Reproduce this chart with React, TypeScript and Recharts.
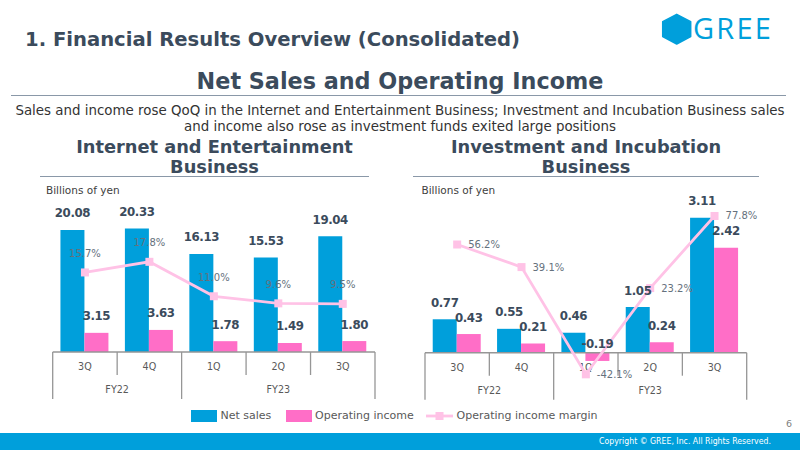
import React from 'react';
import { ComposedChart, Bar, Line, XAxis, YAxis, ReferenceLine, LabelList } from 'recharts';

// Quarter categories and the fiscal-year groups they belong to
const quarters = ['3Q', '4Q', '1Q', '2Q', '3Q'];
const fiscalYears = ['FY22', 'FY23'];
const fiscalYearSpans = [2, 3];

// Internet and Entertainment Business (billions of yen, margin in %)
const ieNetSales = [20.08, 20.33, 16.13, 15.53, 19.04];
const ieOperatingIncome = [3.15, 3.63, 1.78, 1.49, 1.8];
const ieMargin = [15.7, 17.8, 11.0, 9.6, 9.5];

// Investment and Incubation Business (billions of yen, margin in %)
const iiNetSales = [0.77, 0.55, 0.46, 1.05, 3.11];
const iiOperatingIncome = [0.43, 0.21, -0.19, 0.24, 2.42];
const iiMargin = [56.2, 39.1, -42.1, 23.2, 77.8];

const BLUE = '#009FDB';
const PINK = '#FF6EC7';
const LIGHT_PINK = '#FFC2E6';
const SLATE = '#3B4B5C';
const GRAY_TEXT = '#595959';
const TABLE_LINE = '#969696';
const FONT = '"DejaVu Sans", Verdana, sans-serif';

type TableProps = { x1?: number; x2?: number; y1?: number };

// Two-row category table (quarters over fiscal years) hung from the zero line
function CategoryTable({ x1 = 0, x2 = 0, y1 = 0 }: TableProps) {
  const n = quarters.length;
  const band = (x2 - x1) / n;
  const rowH = 23;
  const fullH = 47;
  const items: React.ReactNode[] = [];
  items.push(<line key="axis" x1={x1} x2={x2} y1={y1} y2={y1} stroke={TABLE_LINE} strokeWidth={1.5} />);
  const groupEdges = new Set<number>([0]);
  let acc = 0;
  fiscalYearSpans.forEach((s) => {
    acc += s;
    groupEdges.add(acc);
  });
  for (let i = 0; i <= n; i++) {
    const x = x1 + i * band;
    const h = groupEdges.has(i) ? fullH : rowH;
    items.push(<line key={`v${i}`} x1={x} x2={x} y1={y1} y2={y1 + h} stroke={TABLE_LINE} strokeWidth={1.3} />);
  }
  quarters.forEach((q, i) => {
    items.push(
      <text key={`q${i}`} x={x1 + (i + 0.5) * band} y={y1 + 14.5} textAnchor="middle" dominantBaseline="central"
        fontFamily={FONT} fontSize={9.6} fill={GRAY_TEXT}>{q}</text>
    );
  });
  let start = 0;
  fiscalYears.forEach((fy, j) => {
    const span = fiscalYearSpans[j];
    items.push(
      <text key={`fy${j}`} x={x1 + (start + span / 2) * band} y={y1 + 37.7} textAnchor="middle" dominantBaseline="central"
        fontFamily={FONT} fontSize={9.6} fill={GRAY_TEXT}>{fy}</text>
    );
    start += span;
  });
  return <g className="category-table">{items}</g>;
}

function readBox(props: any) {
  const vb = props.viewBox || {};
  const x = vb.x ?? props.x ?? 0;
  const y = vb.y ?? props.y ?? 0;
  const width = vb.width ?? props.width ?? 0;
  const height = vb.height ?? props.height ?? 0;
  return { x: Number(x), y: Number(y), width: Number(width), height: Number(height) };
}

const renderAmountLabel = (props: any) => {
  const { x, y, width, height } = readBox(props);
  const value = Number(props.value);
  const top = Math.min(y, y + height);
  const cy = value < 0 ? top - 9 : top - 16.5;
  return (
    <text x={x + width / 2} y={cy} textAnchor="middle" dominantBaseline="central" fontFamily={FONT}
      fontWeight="bold" fontSize={11.8} letterSpacing={-0.4} fill={SLATE}>
      {value.toFixed(2)}
    </text>
  );
};

const renderMarginLabelAbove = (props: any) => {
  const { x, y } = readBox(props);
  return (
    <text x={x} y={y - 19} textAnchor="middle" dominantBaseline="central" fontFamily={FONT} fontSize={10}
      fill="#65717D">
      {Number(props.value).toFixed(1)}%
    </text>
  );
};

const renderMarginLabelRight = (props: any) => {
  const { x, y } = readBox(props);
  return (
    <text x={x + 11} y={y} textAnchor="start" dominantBaseline="central" fontFamily={FONT} fontSize={10}
      fill="#65717D">
      {Number(props.value).toFixed(1)}%
    </text>
  );
};

const squareDot = (p: any) => {
  const { cx, cy, index } = p;
  return <rect key={`dot-${index}`} x={cx - 4} y={cy - 4} width={8} height={8} fill={LIGHT_PINK} />;
};

type SegmentProps = {
  netSales: number[];
  opIncome: number[];
  margin: number[];
  amountDomain: [number, number];
  ratioDomain: [number, number];
  ratioLabelSide: 'above' | 'right';
  width: number;
  height: number;
  chartMargin: { top: number; right: number; bottom: number; left: number };
};

function SegmentChart(props: SegmentProps) {
  const { netSales, opIncome, margin, amountDomain, ratioDomain, ratioLabelSide, width, height, chartMargin } = props;
  const data = quarters.map((q, i) => ({
    quarter: q,
    netSales: netSales[i],
    opIncome: opIncome[i],
    margin: margin[i],
  }));
  return (
    <ComposedChart width={width} height={height} data={data} margin={chartMargin} barCategoryGap="12%" barGap={0}>
      <XAxis dataKey="quarter" hide />
      <YAxis yAxisId="amount" hide domain={amountDomain} />
      <YAxis yAxisId="ratio" hide orientation="right" domain={ratioDomain} />
      <ReferenceLine yAxisId="amount" y={0} shape={(p: any) => <CategoryTable x1={p.x1} x2={p.x2} y1={p.y1} />} />
      <Bar yAxisId="amount" dataKey="netSales" name="Net sales" fill={BLUE} isAnimationActive={false}>
        <LabelList dataKey="netSales" content={renderAmountLabel} />
      </Bar>
      <Bar yAxisId="amount" dataKey="opIncome" name="Operating income" fill={PINK} isAnimationActive={false}>
        <LabelList dataKey="opIncome" content={renderAmountLabel} />
      </Bar>
      <Line yAxisId="ratio" dataKey="margin" name="Operating income margin" type="linear" stroke={LIGHT_PINK}
        strokeWidth={2.8} dot={squareDot} activeDot={false} isAnimationActive={false}>
        <LabelList dataKey="margin" content={ratioLabelSide === 'above' ? renderMarginLabelAbove : renderMarginLabelRight} />
      </Line>
    </ComposedChart>
  );
}

const abs = (s: React.CSSProperties): React.CSSProperties => ({ position: 'absolute', ...s });

function LegendRow() {
  const textStyle: React.CSSProperties = { fontFamily: FONT, fontSize: 11, color: GRAY_TEXT, lineHeight: '14px', whiteSpace: 'nowrap' };
  return (
    <>
      <div style={abs({ left: 191, top: 410, width: 26, height: 12, background: BLUE })} />
      <div style={abs({ left: 220.5, top: 409, ...textStyle })}>Net sales</div>
      <div style={abs({ left: 286, top: 410, width: 26, height: 12, background: PINK })} />
      <div style={abs({ left: 315, top: 409, ...textStyle })}>Operating income</div>
      <svg style={abs({ left: 426, top: 410, overflow: 'visible' })} width={27} height={12}>
        <line x1={0} x2={27} y1={6} y2={6} stroke={LIGHT_PINK} strokeWidth={2.8} />
        <rect x={9.5} y={2} width={8} height={8} fill={LIGHT_PINK} />
      </svg>
      <div style={abs({ left: 456.5, top: 409, ...textStyle })}>Operating income margin</div>
    </>
  );
}

export default function App() {
  return (
    <div style={{ position: 'fixed', left: 0, top: 0, width: 800, height: 450, overflow: 'hidden', background: '#ffffff' }}>
      {/* Slide header */}
      <div style={abs({ left: 25, top: 28.5, fontFamily: FONT, fontWeight: 'bold', fontSize: 19.6, lineHeight: '22px', color: SLATE, whiteSpace: 'nowrap' })}>
        1. Financial Results Overview (Consolidated)
      </div>
      <svg style={abs({ left: 655, top: 8 })} width={140} height={44}>
        <polygon points="21.7,6.3 35.7,13.7 35.7,28.6 21.7,36 7.7,28.6 7.7,13.7" fill={BLUE} stroke={BLUE} strokeWidth={1.5} strokeLinejoin="round" />
        <text x={38} y={31} fontFamily='"Open Sans", sans-serif' fontSize={29} letterSpacing={2.2} fill={BLUE}>GREE</text>
      </svg>
      <div style={abs({ left: 0, width: 800, top: 67.8, textAlign: 'center', fontFamily: FONT, fontWeight: 'bold', fontSize: 22.3, lineHeight: '26px', color: SLATE, whiteSpace: 'nowrap' })}>
        Net Sales and Operating Income
      </div>
      <div style={abs({ left: 11, top: 95.2, width: 775, height: 0, borderTop: '1.6px solid #8A98A8' })} />
      <div style={abs({ left: 0, width: 800, top: 102.7, textAlign: 'center', fontFamily: FONT, fontSize: 13.4, lineHeight: '16px', color: '#333333', whiteSpace: 'nowrap' })}>
        Sales and income rose QoQ in the Internet and Entertainment Business; Investment and Incubation Business sales
        <br />
        and income also rose as investment funds exited large positions
      </div>

      {/* Segment headings */}
      <div style={abs({ left: 14.5, width: 400, top: 137, textAlign: 'center', fontFamily: FONT, fontWeight: 'bold', fontSize: 17.8, lineHeight: '20px', color: SLATE, whiteSpace: 'nowrap' })}>
        Internet and Entertainment
        <br />
        Business
      </div>
      <div style={abs({ left: 40, top: 176.2, width: 329, height: 0, borderTop: '1.6px solid #8A98A8' })} />
      <div style={abs({ left: 386, width: 400, top: 137, textAlign: 'center', fontFamily: FONT, fontWeight: 'bold', fontSize: 17.8, lineHeight: '20px', color: SLATE, whiteSpace: 'nowrap' })}>
        Investment and Incubation
        <br />
        Business
      </div>
      <div style={abs({ left: 413, top: 176.2, width: 346, height: 0, borderTop: '1.6px solid #8A98A8' })} />

      <div style={abs({ left: 46, top: 183, fontFamily: FONT, fontSize: 10.5, lineHeight: '14px', color: '#404040', whiteSpace: 'nowrap' })}>Billions of yen</div>
      <div style={abs({ left: 421.5, top: 183, fontFamily: FONT, fontSize: 10.5, lineHeight: '14px', color: '#404040', whiteSpace: 'nowrap' })}>Billions of yen</div>

      {/* Charts */}
      <div style={abs({ left: 40, top: 180 })}>
        <SegmentChart
          netSales={ieNetSales}
          opIncome={ieOperatingIncome}
          margin={ieMargin}
          amountDomain={[0, 25]}
          ratioDomain={[0, 30]}
          ratioLabelSide="above"
          width={345}
          height={225}
          chartMargin={{ top: 20, right: 10, bottom: 53, left: 12.7 }}
        />
      </div>
      <div style={abs({ left: 410, top: 180 })}>
        <SegmentChart
          netSales={iiNetSales}
          opIncome={iiOperatingIncome}
          margin={iiMargin}
          amountDomain={[-0.629, 3.518]}
          ratioDomain={[-46.4, 89.9]}
          ratioLabelSide="right"
          width={360}
          height={225}
          chartMargin={{ top: 20, right: 23.3, bottom: 25, left: 15 }}
        />
      </div>

      <LegendRow />

      {/* Footer */}
      <div style={abs({ left: 783, top: 417, width: 12, textAlign: 'center', fontFamily: FONT, fontSize: 9.5, lineHeight: '14px', color: '#7F7F7F' })}>6</div>
      <div style={abs({ left: 0, top: 433, width: 800, height: 17, background: BLUE })} />
      <div style={abs({ right: 29, top: 435, fontFamily: '"DejaVu Sans Condensed", "DejaVu Sans", sans-serif', fontSize: 8.7, lineHeight: '13px', color: '#FFFFFF', whiteSpace: 'nowrap' })}>
        Copyright © GREE, Inc. All Rights Reserved.
      </div>
    </div>
  );
}
